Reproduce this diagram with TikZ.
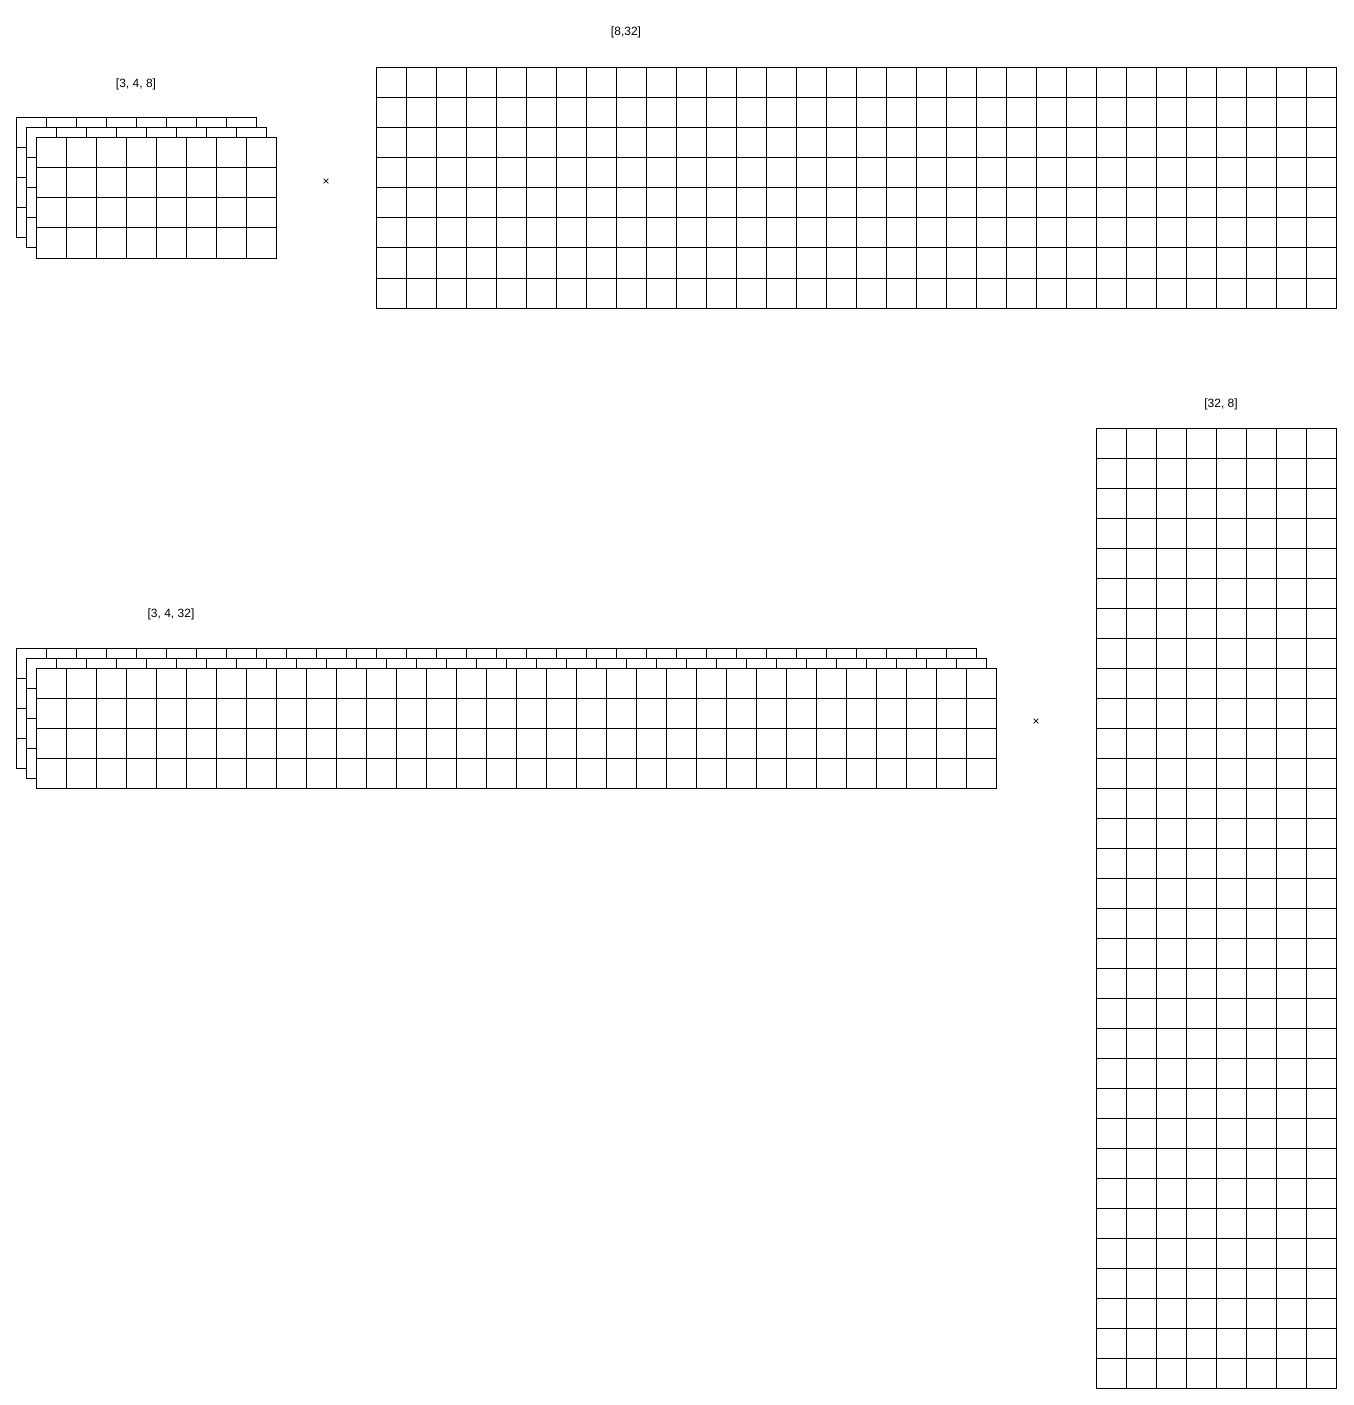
\documentclass[tikz,border=0pt]{standalone}
\usepackage{fontspec}
\setmainfont{Liberation Sans}
\usetikzlibrary{positioning}

% one layer of cells: x, y, columns, rows
\newcommand{\cellgrid}[4]{%
  \foreach \c in {1,...,#3}
    \foreach \r in {1,...,#4}
      \draw[cell] ({#1+(\c-1)*30},{#2+(\r-1)*30}) rectangle ++(30,30);
}

\begin{document}
\begin{tikzpicture}[x=0.75pt,y=-0.75pt,line width=0.75pt]
  \tikzstyle{cell}=[draw=black,fill=white]
  \tikzstyle{dim}=[font=\fontsize{9}{11}\selectfont,inner sep=0pt]
  \useasboundingbox (0,0) rectangle (1353,1405);

  % [3, 4, 8] stack
  \cellgrid{16}{118}{8}{4}
  \cellgrid{26}{128}{8}{4}
  \cellgrid{36}{138}{8}{4}
  \node[dim] (small) at (136,84) {[3, 4, 8]};
  \node[dim] (times1) at (326,182) {×};

  % [8,32] matrix
  \cellgrid{376}{68}{32}{8}
  \node[dim] (wide) at (626,32) {[8,32]};

  % [32, 8] matrix
  \cellgrid{1096}{428}{8}{32}
  \node[dim] (tall) at (1221,404) {[32, 8]};

  % [3, 4, 32] stack
  \cellgrid{16}{648}{32}{4}
  \cellgrid{26}{658}{32}{4}
  \cellgrid{36}{668}{32}{4}
  \node[dim] (big) at (171,614) {[3, 4, 32]};
  \node[dim] (times2) at (1036,722) {×};
\end{tikzpicture}
\end{document}
